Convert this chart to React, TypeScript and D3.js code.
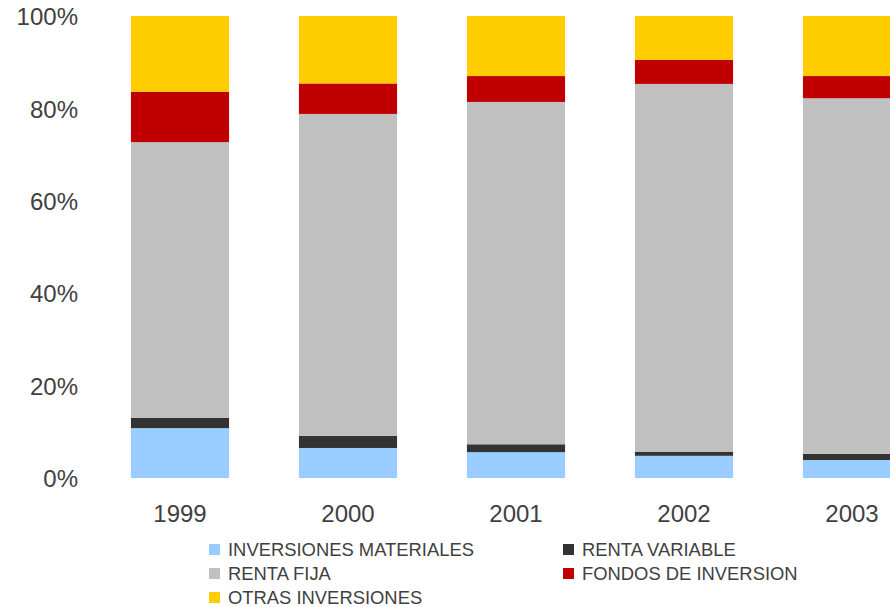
import * as d3 from "d3";

// shares of each investment type per year, in percent
const years = ["1999", "2000", "2001", "2002", "2003"];
const inversionesMateriales = [10.8, 6.5, 5.6, 4.8, 3.9];
const rentaVariable = [2.2, 2.6, 1.7, 0.9, 1.3];
const rentaFija = [59.7, 69.7, 74.1, 79.6, 77.0];
const fondosInversion = [10.9, 6.6, 5.6, 5.2, 4.8];
const otrasInversiones = [16.4, 14.6, 13.0, 9.5, 13.0];

const seriesNames = [
  "INVERSIONES MATERIALES",
  "RENTA VARIABLE",
  "RENTA FIJA",
  "FONDOS DE INVERSION",
  "OTRAS INVERSIONES",
];
const seriesColors = ["#99ccff", "#333333", "#c0c0c0", "#c00000", "#ffcc00"];
const yTicks = [0, 0.2, 0.4, 0.6, 0.8, 1];

const W = 890;
const H = 607;
const textColor = "#404040";
const font = "'Liberation Sans', Arial, sans-serif";

export default function App() {
  const allSeries = [
    inversionesMateriales,
    rentaVariable,
    rentaFija,
    fondosInversion,
    otrasInversiones,
  ];
  const table = years.map((year, i) => {
    const row: Record<string, any> = { year };
    seriesNames.forEach((name, s) => (row[name] = allSeries[s][i]));
    return row;
  });

  const stacked = d3
    .stack<any>()
    .keys(seriesNames)
    .offset(d3.stackOffsetExpand)(table);

  const x = d3
    .scaleBand()
    .domain(years)
    .range([96, 936])
    .paddingInner(0.416)
    .paddingOuter(0.208);
  const y = d3.scaleLinear().domain([0, 1]).range([478, 16]);
  const fmt = d3.format(".0%");

  const legendCols = [209, 563];

  return (
    <svg
      width={W}
      height={H}
      style={{ position: "absolute", left: 0, top: 0, background: "#fff" }}
      fontFamily={font}
    >
      {stacked.map((layer, s) => (
        <g key={seriesNames[s]} fill={seriesColors[s]}>
          {layer.map((d, i) => (
            <rect
              key={years[i]}
              x={x(years[i])}
              y={y(d[1])}
              width={x.bandwidth()}
              height={y(d[0]) - y(d[1])}
            />
          ))}
        </g>
      ))}

      {yTicks.map((t) => (
        <text
          key={t}
          x={78}
          y={y(t)}
          dy="0.38em"
          textAnchor="end"
          fontSize={24}
          fill={textColor}
        >
          {fmt(t)}
        </text>
      ))}

      {years.map((yr) => (
        <text
          key={yr}
          x={(x(yr) as number) + x.bandwidth() / 2}
          y={522}
          textAnchor="middle"
          fontSize={24}
          fill={textColor}
        >
          {yr}
        </text>
      ))}

      {seriesNames.map((name, s) => {
        const lx = legendCols[s % 2];
        const ly = 556 + Math.floor(s / 2) * 24;
        return (
          <g key={name}>
            <rect x={lx} y={ly - 12} width={11} height={11} fill={seriesColors[s]} />
            <text x={lx + 19} y={ly} fontSize={18.4} fill={textColor}>
              {name}
            </text>
          </g>
        );
      })}
    </svg>
  );
}
